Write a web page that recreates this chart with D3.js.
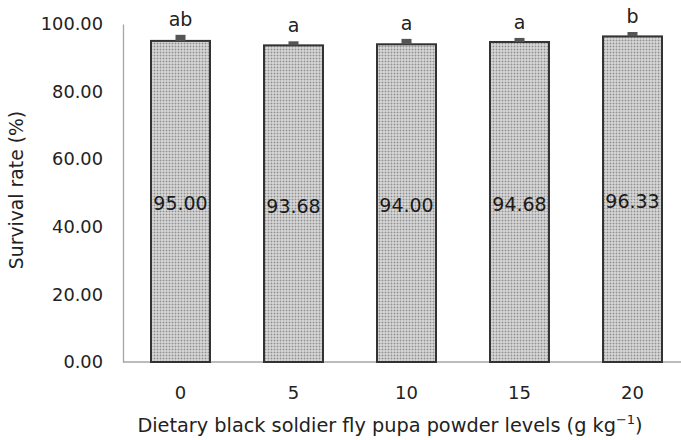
<!DOCTYPE html>
<html><head><meta charset="utf-8">
<script src="https://cdn.jsdelivr.net/npm/d3@7"></script>
<style>body{margin:0;background:#fff}svg{display:block}text{font-family:"DejaVu Sans",sans-serif}</style>
</head><body>
<svg id="c" width="681" height="440"></svg>
<script>
const categories = ["0","5","10","15","20"];
const values = [95.00, 93.68, 94.00, 94.68, 96.33];
const errors = [1.8, 1.2, 1.6, 1.2, 1.3];
const letters = ["ab","a","a","a","b"];
const yTicks = [0,20,40,60,80,100];

const svg = d3.select("#c");
const x = d3.scaleBand().domain(categories).range([124, 689]).paddingInner(0.478).paddingOuter(0.239);
const y = d3.scaleLinear().domain([0,100]).range([362, 24]);

const defs = svg.append("defs");
const pat = defs.append("pattern").attr("id","dots").attr("width",3).attr("height",3).attr("patternUnits","userSpaceOnUse");
pat.append("rect").attr("width",3).attr("height",3).attr("fill","#ebebeb");
pat.append("rect").attr("x",0.5).attr("y",0.5).attr("width",2).attr("height",2).attr("fill","#909090");

// y axis
const ya = svg.append("g").attr("transform","translate(123,0)")
  .call(d3.axisLeft(y).tickValues(yTicks).tickSize(0).tickPadding(20).tickFormat(d3.format(".2f")));
ya.select(".domain").attr("stroke","#a6a6a6").attr("stroke-width",1.3);
ya.selectAll("text").attr("font-size",17.8).attr("fill","#222").attr("font-family","DejaVu Sans");

// x axis
const xa = svg.append("g").attr("transform","translate(0,362)")
  .call(d3.axisBottom(x).tickSize(0).tickPadding(24));
xa.select(".domain").attr("d","M123,0H681").attr("stroke","#a6a6a6").attr("stroke-width",1.5);
xa.selectAll("text").attr("font-size",18).attr("fill","#222").attr("font-family","DejaVu Sans");

// bars
svg.selectAll(".bar").data(values).join("rect")
  .attr("x",(d,i)=>x(categories[i])).attr("width",x.bandwidth())
  .attr("y",d=>y(d)).attr("height",d=>y(0)-y(d))
  .attr("fill","url(#dots)").attr("stroke","#333").attr("stroke-width",2);

// error bars
svg.selectAll(".err").data(values).join("rect")
  .attr("x",(d,i)=>x(categories[i])+x.bandwidth()/2-5).attr("width",10)
  .attr("y",(d,i)=>y(d+errors[i])).attr("height",(d,i)=>y(d)-y(d+errors[i]))
  .attr("fill","#555");

// letters
svg.selectAll(".let").data(values).join("text")
  .attr("x",(d,i)=>x(categories[i])+x.bandwidth()/2)
  .attr("y",(d,i)=>y(d+errors[i])-9)
  .attr("text-anchor","middle").attr("font-size",19).attr("fill","#222")
  .text((d,i)=>letters[i]);

// value labels
svg.selectAll(".val").data(values).join("text")
  .attr("x",(d,i)=>x(categories[i])+x.bandwidth()/2)
  .attr("y",d=>y(d/2)+2).attr("dy","0.36em")
  .attr("text-anchor","middle").attr("font-size",19).attr("fill","#1a1a1a")
  .text(d=>d3.format(".2f")(d));

// axis titles
svg.append("text").attr("transform","translate(23,190) rotate(-90)")
  .attr("text-anchor","middle").attr("font-size",18.8).attr("fill","#222").text("Survival rate (%)");
const xt = svg.append("text").attr("x",390).attr("y",432)
  .attr("text-anchor","middle").attr("font-size",19.3).attr("fill","#222");
xt.append("tspan").text("Dietary black soldier fly pupa powder levels (g kg");
xt.append("tspan").attr("dy",-8).attr("font-size",13).text("\u22121");
xt.append("tspan").attr("dy",8).text(")");
</script>
</body></html>
